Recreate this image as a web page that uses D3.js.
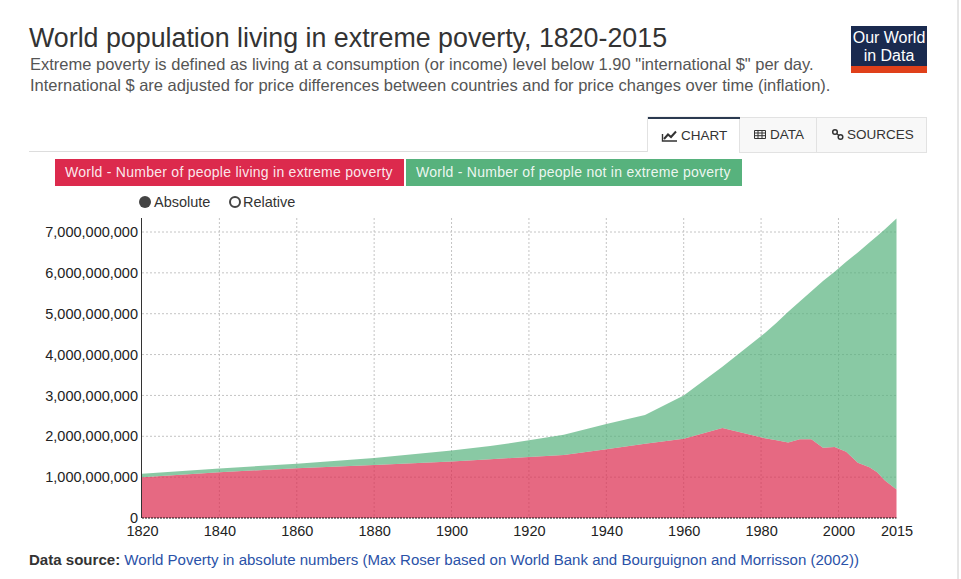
<!DOCTYPE html>
<html>
<head>
<meta charset="utf-8">
<title>World population living in extreme poverty, 1820-2015</title>
<script src="https://cdn.jsdelivr.net/npm/d3@7"></script>
<style>
html, body { margin: 0; padding: 0; background: #fff; overflow: hidden; }
svg { display: block; font-family: "Liberation Sans", Arial, sans-serif; }
</style>
</head>
<body>
<svg id="chart" width="961" height="579"></svg>
<script>
// values
var years = [1820, 1840, 1860, 1880, 1900, 1910, 1920, 1929, 1940, 1950, 1960, 1970, 1981, 1984, 1987, 1990, 1993, 1996, 1999, 2002, 2005, 2008, 2010, 2012, 2015];
var inPoverty = [1.00, 1.12, 1.22, 1.30, 1.38, 1.44, 1.49, 1.54, 1.68, 1.82, 1.94, 2.20, 1.95, 1.90, 1.85, 1.93, 1.93, 1.72, 1.74, 1.62, 1.35, 1.24, 1.12, 0.92, 0.70];
var notInPoverty = [0.08, 0.09, 0.11, 0.17, 0.27, 0.32, 0.41, 0.50, 0.62, 0.70, 1.06, 1.50, 2.58, 2.88, 3.20, 3.37, 3.62, 4.08, 4.29, 4.65, 5.15, 5.50, 5.78, 6.15, 6.63];
var xTicks = [1820, 1840, 1860, 1880, 1900, 1920, 1940, 1960, 1980, 2000, 2015];
var yTicks = [0, 1e9, 2e9, 3e9, 4e9, 5e9, 6e9, 7e9];
var seriesNames = ['World - Number of people living in extreme poverty', 'World - Number of people not in extreme poverty'];

var svg = d3.select('#chart');

// header
svg.append('text').attr('x', 29).attr('y', 47).attr('font-size', 26.8).attr('fill', '#333')
    .text('World population living in extreme poverty, 1820-2015');
svg.append('text').attr('x', 30).attr('y', 70).attr('font-size', 16.5).attr('fill', '#555')
    .text('Extreme poverty is defined as living at a consumption (or income) level below 1.90 "international $" per day.');
svg.append('text').attr('x', 30).attr('y', 91).attr('font-size', 16.5).attr('fill', '#555')
    .text('International $ are adjusted for price differences between countries and for price changes over time (inflation).');

// logo
svg.append('rect').attr('x', 851).attr('y', 26).attr('width', 76).attr('height', 47).attr('fill', '#1a2a4f');
svg.append('rect').attr('x', 851).attr('y', 66).attr('width', 76).attr('height', 7).attr('fill', '#e0401a');
svg.append('text').attr('x', 889).attr('y', 43.4).attr('text-anchor', 'middle').attr('font-size', 16)
    .attr('fill', '#fff').text('Our World');
svg.append('text').attr('x', 889).attr('y', 61.4).attr('text-anchor', 'middle').attr('font-size', 16)
    .attr('fill', '#fff').text('in Data');

// page edge on the right
svg.append('line').attr('x1', 958).attr('x2', 958).attr('y1', 0).attr('y2', 579).attr('stroke', '#ccc');

// tabs
svg.append('line').attr('x1', 29).attr('x2', 648).attr('y1', 151.5).attr('y2', 151.5).attr('stroke', '#ddd');
svg.append('rect').attr('x', 739.5).attr('y', 117.5).attr('width', 187).attr('height', 35).attr('fill', '#f8f8f8').attr('stroke', '#e2e2e2');
svg.append('line').attr('x1', 816.5).attr('x2', 816.5).attr('y1', 117).attr('y2', 152).attr('stroke', '#e2e2e2');
svg.append('path').attr('d', 'M647.5,152V117H739.5V152').attr('fill', '#fff').attr('stroke', '#e2e2e2');
svg.append('rect').attr('x', 648).attr('y', 117).attr('width', 92).attr('height', 2).attr('fill', '#2b3a50');
svg.append('text').attr('x', 681).attr('y', 140).attr('font-size', 13.5).attr('fill', '#333').text('CHART');
svg.append('text').attr('x', 770).attr('y', 139).attr('font-size', 13.5).attr('fill', '#333').text('DATA');
svg.append('text').attr('x', 847).attr('y', 139).attr('font-size', 13.5).attr('fill', '#333').text('SOURCES');

// tab icons
svg.append('path').attr('d', 'M662.5,134V141H677').attr('fill', 'none').attr('stroke', '#333').attr('stroke-width', 1.4);
svg.append('path').attr('d', 'M664,139L668,134.5L671,137L676,131.5').attr('fill', 'none').attr('stroke', '#333').attr('stroke-width', 2);
svg.append('path').attr('d', 'M754.5,130.5H765.5V138.5H754.5ZM754.5,133H765.5M754.5,135.7H765.5M758,130.5V138.5M762,130.5V138.5').attr('fill', 'none').attr('stroke', '#333');
svg.append('circle').attr('cx', 835).attr('cy', 132).attr('r', 2.3).attr('fill', 'none').attr('stroke', '#333').attr('stroke-width', 1.5);
svg.append('circle').attr('cx', 840.5).attr('cy', 137).attr('r', 2.3).attr('fill', 'none').attr('stroke', '#333').attr('stroke-width', 1.5);
svg.append('path').attr('d', 'M836.5,133.5L839,135.5').attr('stroke', '#333').attr('stroke-width', 1.5);

// legend buttons
var legendBoxes = [[55, 349, '#dc2a4d'], [406, 336, '#57b27d']];
legendBoxes.forEach(function(box, i) {
    svg.append('rect').attr('x', box[0]).attr('y', 159).attr('width', box[1]).attr('height', 27).attr('fill', box[2]);
    svg.append('text').attr('x', box[0] + 10).attr('y', 177).attr('font-size', 14).attr('fill', '#fff').attr('fill-opacity', 0.9)
        .attr('letter-spacing', 0.26).text(seriesNames[i]);
});

// absolute / relative radio
svg.append('circle').attr('cx', 145).attr('cy', 202).attr('r', 6).attr('fill', '#444');
svg.append('text').attr('x', 154).attr('y', 207).attr('font-size', 14.5).attr('fill', '#333').text('Absolute');
svg.append('circle').attr('cx', 235).attr('cy', 202).attr('r', 5).attr('fill', '#fff').attr('stroke', '#444').attr('stroke-width', 2);
svg.append('text').attr('x', 243).attr('y', 207).attr('font-size', 14.5).attr('fill', '#333').text('Relative');

// scales
var x = d3.scaleLinear().domain([1820, 2015]).range([142, 896.5]);
var y = d3.scaleLinear().domain([0, 7e9]).range([518, 232]);

// grid
svg.append('g').selectAll('line').data(xTicks.slice(1, -1)).enter().append('line')
    .attr('x1', d => x(d)).attr('x2', d => x(d)).attr('y1', 218).attr('y2', 518)
    .attr('stroke', '#c4c4c4').attr('stroke-dasharray', '2,2');
svg.append('g').selectAll('line').data(yTicks.slice(1)).enter().append('line')
    .attr('x1', 142).attr('x2', 896.5).attr('y1', d => y(d)).attr('y2', d => y(d))
    .attr('stroke', '#c4c4c4').attr('stroke-dasharray', '2,2');

// stacked areas
var table = years.map(function(year, i) {
    return { year: year, poverty: inPoverty[i] * 1e9, rest: notInPoverty[i] * 1e9 };
});
var stacked = d3.stack().keys(['poverty', 'rest'])(table);
var area = d3.area().x(d => x(d.data.year)).y0(d => y(d[0])).y1(d => y(d[1]));
var areaColors = ['#dc2a4d', '#57b27d'];
svg.append('g').selectAll('path').data(stacked).enter().append('path')
    .attr('d', area).attr('fill', (d, i) => areaColors[i]).attr('fill-opacity', 0.7);

// axes
var xAxis = d3.axisBottom(x).tickValues(xTicks).tickFormat(d3.format('d')).tickSize(0).tickPadding(8);
var yAxis = d3.axisLeft(y).tickValues(yTicks).tickFormat(d3.format(',')).tickSize(0).tickPadding(4);
var gx = svg.append('g').attr('transform', 'translate(0,518)').call(xAxis);
var gy = svg.append('g').attr('transform', 'translate(142,0)').call(yAxis);
gx.select('.domain').remove();
gy.select('.domain').remove();
gx.selectAll('text').attr('font-size', 14.5).attr('font-family', '"Liberation Sans", Arial, sans-serif').attr('fill', '#222');
gy.selectAll('text').attr('font-size', 14.5).attr('font-family', '"Liberation Sans", Arial, sans-serif').attr('fill', '#222');
svg.append('line').attr('x1', 141.5).attr('x2', 141.5).attr('y1', 218).attr('y2', 518).attr('stroke', '#333');
svg.append('line').attr('x1', 142).attr('x2', 896.5).attr('y1', 518).attr('y2', 518).attr('stroke', '#111').attr('stroke-dasharray', '2,1');

// footer
var footer = svg.append('text').attr('x', 29).attr('y', 565).attr('font-size', 15.05);
footer.append('tspan').attr('font-weight', 'bold').attr('fill', '#333').text('Data source: ');
footer.append('tspan').attr('fill', '#2a52a8').text('World Poverty in absolute numbers (Max Roser based on World Bank and Bourguignon and Morrisson (2002))');
</script>
</body>
</html>
